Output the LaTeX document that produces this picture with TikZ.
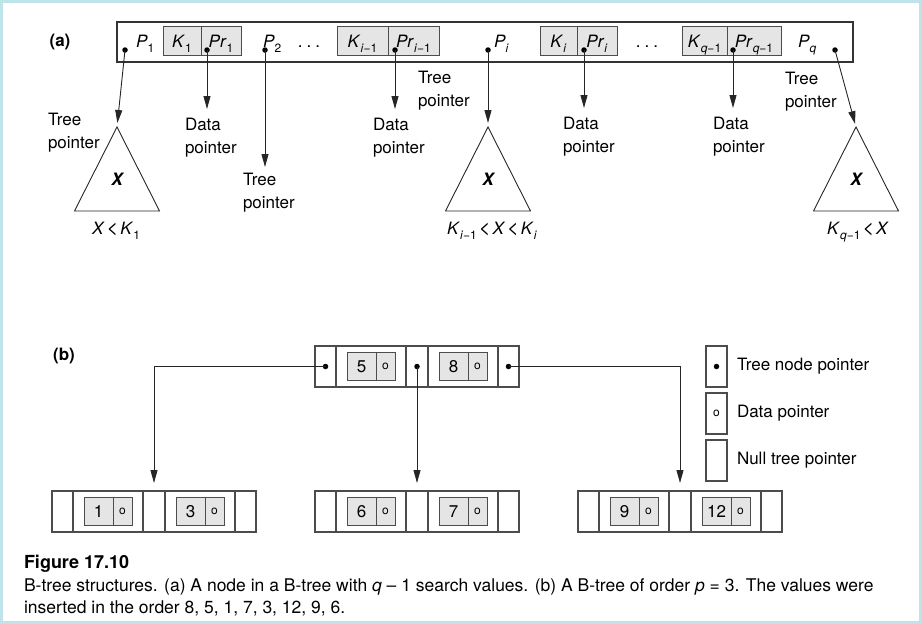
\documentclass[tikz,border=0pt]{standalone}
\usepackage{fontspec}
\setmainfont{TeX Gyre Heros}
\usetikzlibrary{arrows.meta,positioning}
\definecolor{keygray}{RGB}{229,229,229}
\definecolor{framecyan}{RGB}{190,227,234}
\newcommand{\lo}[1]{\raisebox{-0.3em}{\fontsize{12}{12}\selectfont #1}}
\newcommand{\lt}{\hspace{2pt}{\fontsize{20}{20}\selectfont<}\hspace{2pt}}
\newcommand{\bnode}[4]{%
  \node[ptrcell, anchor=north west] (#1p1) at (#2) {};
  \node[keycell, right=0pt of #1p1] (#1k1) {};
  \node[ptrcell, minimum width=22pt, right=0pt of #1k1] (#1p2) {};
  \node[keycell, right=0pt of #1p2] (#1k2) {};
  \node[ptrcell, right=0pt of #1k2] (#1p3) {};
  \node[valbox] (#1v1) at ([xshift=-9.5pt]#1k1.center) {#3};
  \node[valbox, osym, minimum width=19pt, right=0pt of #1v1] (#1o1) {o};
  \node[valbox] (#1v2) at ([xshift=-9.5pt]#1k2.center) {#4};
  \node[valbox, osym, minimum width=19pt, right=0pt of #1v2] (#1o2) {o};
}

\begin{document}
\begin{tikzpicture}[x=1pt, y=-1pt, >={Triangle[length=13pt,width=7pt]},
  every node/.style={font=\fontsize{17}{23}\selectfont, inner sep=0pt, outer sep=0pt},
  bigbox/.style={draw=black!80, line width=1.1pt, anchor=north west,
                 minimum width=736pt, minimum height=40pt},
  kbox/.style={draw=black!70, fill=keygray, line width=0.9pt, minimum height=29pt,
               text height=12.2pt, text depth=0pt},
  dot/.style={circle, fill=black, minimum size=5.5pt},
  lbl/.style={align=left, anchor=north west},
  tree/.style={draw=black!85, line width=0.9pt},
  ptrcell/.style={draw=black!70, line width=1.1pt, minimum width=21pt, minimum height=41pt},
  keycell/.style={draw=black!70, line width=1.1pt, minimum width=70pt, minimum height=41pt},
  valbox/.style={draw=black!70, fill=keygray, line width=0.9pt, minimum width=29pt,
                 minimum height=28pt, text height=12.2pt, text depth=0pt},
  osym/.style={font=\fontsize{12}{12}\selectfont, text height=6pt},
  link/.style={->, draw=black!85, line width=0.9pt}]

\useasboundingbox (0,0) rectangle (922,624);
\draw[framecyan, line width=3pt] (1.5,1.5) rectangle (920.5,622.5);

% (a) one node of the B-tree
\node[font=\fontsize{17}{23}\selectfont\bfseries] (la) at (60,42) {(a)};
\node[bigbox] (big) at (117,22) {};

\node[kbox, minimum width=38pt] (k1) at (182,41) {\textit{K}\lo{1}};
\node[kbox, minimum width=40pt, right=0pt of k1] (pr1) {\textit{Pr}\lo{1}};
\node[kbox, minimum width=51pt] (ki1) at (362.5,41) {\textit{K}\lo{\textit{i}−1}};
\node[kbox, minimum width=51pt, right=0pt of ki1] (pri1) {\textit{Pr}\lo{\textit{i}−1}};
\node[kbox, minimum width=37pt] (ki) at (558.5,41) {\textit{K}\lo{\textit{i}}};
\node[kbox, minimum width=40pt, right=0pt of ki] (pri) {\textit{Pr}\lo{\textit{i}}};
\node[kbox, minimum width=45pt] (kq1) at (704.5,41) {\textit{K}\lo{\textit{q}−1}};
\node[kbox, minimum width=54pt, right=0pt of kq1] (prq1) {\textit{Pr}\lo{\textit{q}−1}};

\node[anchor=base west] (p1) at (136,47) {\textit{P}\lo{1}};
\node[anchor=base west] (p2) at (263,47) {\textit{P}\lo{2}};
\node[anchor=base] (dots1) at (309,47) {.\hspace{4pt}.\hspace{4pt}.};
\node[anchor=base west] (pi) at (494,47) {\textit{P}\lo{\textit{i}}};
\node[anchor=base] (dots2) at (647,47) {.\hspace{4pt}.\hspace{4pt}.};
\node[anchor=base west] (pq) at (798,47) {\textit{P}\lo{\textit{q}}};

\node[dot] (dp1) at (125,50) {};
\node[dot] (dpr1) at (207,50) {};
\node[dot] (dp2) at (265,50) {};
\node[dot] (dpri1) at (395,50) {};
\node[dot] (dpi) at (488,50) {};
\node[dot] (dpri) at (584,50) {};
\node[dot] (dprq1) at (733,50) {};
\node[dot] (dpq) at (835,50) {};

% subtrees
\coordinate (t1) at (117,127);
\coordinate (t2) at (488,127);
\coordinate (t3) at (856,127);
\foreach \t in {t1,t2,t3}
  \draw[tree] (\t) -- ++(-42.5,84) -- ++(85,0) -- cycle;
\node[font=\fontsize{17}{23}\selectfont\bfseries\itshape] (x1) at (117,179) {X};
\node[font=\fontsize{17}{23}\selectfont\bfseries\itshape] (x2) at (488,179) {X};
\node[font=\fontsize{17}{23}\selectfont\bfseries\itshape] (x3) at (856,179) {X};
\node[anchor=base] (c1) at (116,234) {\textit{X}\lt\textit{K}\lo{1}};
\node[anchor=base] (c2) at (492,234) {\textit{K}\lo{\textit{i}−1}\lt\textit{X}\lt\textit{K}\lo{\textit{i}}};
\node[anchor=base] (c3) at (858,234) {\textit{K}\lo{\textit{q}−1}\lt\textit{X}};

% pointer labels
\node[lbl] (tp1) at (48,113) {Tree\\pointer};
\node[lbl] (dl1) at (185,118) {Data\\pointer};
\node[lbl] (tp2) at (243,173) {Tree\\pointer};
\node[lbl] (dl2) at (373,118) {Data\\pointer};
\node[lbl] (tp3) at (418,71) {Tree\\pointer};
\node[lbl] (dl3) at (563,117) {Data\\pointer};
\node[lbl] (dl4) at (713,117) {Data\\pointer};
\node[lbl] (tp4) at (785,72) {Tree\\pointer};

\draw[link, shorten >=4pt] (dp1.center) -- (t1);
\draw[link, shorten >=9pt] (dpr1.center) -- (dpr1 |- dl1.north);
\draw[link, shorten >=6pt] (dp2.center) -- (dp2 |- tp2.north);
\draw[link, shorten >=9pt] (dpri1.center) -- (dpri1 |- dl2.north);
\draw[link, shorten >=4pt] (dpi.center) -- (t2);
\draw[link, shorten >=9pt] (dpri.center) -- (dpri |- dl3.north);
\draw[link, shorten >=9pt] (dprq1.center) -- (dprq1 |- dl4.north);
\draw[link, shorten >=3pt] (dpq.center) -- (t3);

% (b) a B-tree of order 3
\node[font=\fontsize{17}{23}\selectfont\bfseries] (lb) at (64,356) {(b)};
\bnode{r}{315,346}{5}{8}
\bnode{la}{52,491}{1}{3}
\bnode{lb}{315,491}{6}{7}
\bnode{lc}{578,491}{9}{12}

\node[dot] (rd1) at (rp1) {};
\node[dot] (rd2) at (rp2) {};
\node[dot] (rd3) at (rp3) {};

\draw[link, shorten >=8pt] (rd1.center) -| (lap2.north);
\draw[link, shorten >=8pt] (rd2.center) -- (lbp2.north);
\draw[link, shorten >=8pt] (rd3.center) -| (lcp2.north);

% legend
\node[ptrcell, anchor=north west] (lg1) at (706,346) {};
\node[dot] (lgd) at (lg1) {};
\node[ptrcell, osym, anchor=north west] (lg2) at (706,393) {o};
\node[ptrcell, anchor=north west] (lg3) at (706,440) {};
\node[anchor=west, right=10pt of lg1] (lt1) {Tree node pointer};
\node[anchor=west, right=10pt of lg2] (lt2) {Data pointer};
\node[anchor=west, right=10pt of lg3] (lt3) {Null tree pointer};

% caption
\node[anchor=base west, font=\fontsize{18}{22}\selectfont\bfseries] (fig) at (24,568) {Figure 17.10};
\node[anchor=north west, align=left, font=\fontsize{17.5}{22}\selectfont] (cap) at (24,579)
  {B-tree structures. (a) A node in a B-tree with \textit{q} – 1 search values. (b) A B-tree of order \textit{p} = 3. The values were\\
   inserted in the order 8, 5, 1, 7, 3, 12, 9, 6.};
\end{tikzpicture}
\end{document}
